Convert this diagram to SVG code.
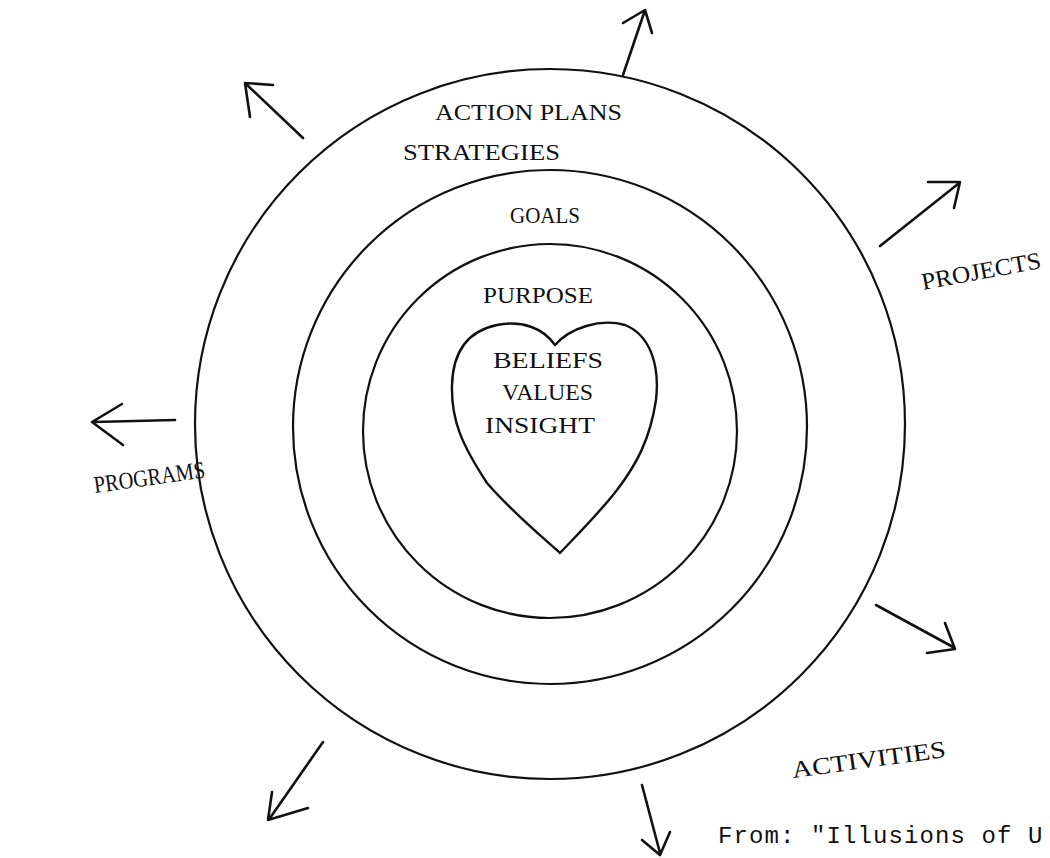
<svg xmlns="http://www.w3.org/2000/svg" width="1050" height="858" viewBox="0 0 1050 858">
<style>
.ring{fill:none;stroke:#111;stroke-width:2.2}
.heart{fill:none;stroke:#111;stroke-width:2.4;stroke-linejoin:round}
.arr{fill:none;stroke:#111;stroke-width:2.6;stroke-linecap:round;stroke-linejoin:round}
.lbl{font-family:"Liberation Serif",serif;font-size:24px;fill:#111}
.src{font-family:"Liberation Mono",monospace;font-size:24px;fill:#111;letter-spacing:1.1px}
</style>
<rect width="1050" height="858" fill="#fff"/>
<g id="outer-ring">
<circle class="ring" cx="550" cy="424" r="355"/>
<text class="lbl" x="435" y="120" textLength="187" lengthAdjust="spacingAndGlyphs">ACTION PLANS</text>
<text class="lbl" x="403" y="160" textLength="157" lengthAdjust="spacingAndGlyphs">STRATEGIES</text>
</g>
<g id="middle-ring">
<circle class="ring" cx="550" cy="427" r="257"/>
<text class="lbl" x="510" y="223" font-size="25" textLength="70" lengthAdjust="spacingAndGlyphs">GOALS</text>
</g>
<g id="inner-ring">
<circle class="ring" cx="550" cy="431" r="187"/>
<text class="lbl" x="483" y="303" textLength="110" lengthAdjust="spacingAndGlyphs">PURPOSE</text>
</g>
<g id="heart">
<path class="heart" d="M555 345 C543 328 522 320 497 325 C468 331 453 352 452 385 C451 420 462 445 487 483 C510 510 540 535 560 553 C580 532 600 512 617 490 C636 465 650 440 656 400 C660 365 650 335 625 325 C600 318 570 328 555 345 Z"/>
<text class="lbl" x="493" y="368" textLength="110" lengthAdjust="spacingAndGlyphs">BELIEFS</text>
<text class="lbl" x="502" y="400" textLength="91" lengthAdjust="spacingAndGlyphs">VALUES</text>
<text class="lbl" x="485" y="433" textLength="110" lengthAdjust="spacingAndGlyphs">INSIGHT</text>
</g>
<g id="connectors">
<path class="arr" d="M303 138 L245 83 M273 85 L245 83 L250 117"/>
<path class="arr" d="M623 75 L645 10 M623 23 L645 10 L652 33"/>
<path class="arr" d="M880 246 L958 184 M928 182 L960 182 L954 208"/>
<path class="arr" d="M175 420 L94 422 M122 404 L92 422 L123 445"/>
<path class="arr" d="M876 605 L953 647 M945 623 L955 649 L927 653"/>
<path class="arr" d="M642 785 L660 853 M642 840 L660 855 L670 832"/>
<path class="arr" d="M323 742 L270 818 M272 792 L268 820 L308 808"/>
</g>
<g id="outputs">
<text class="lbl" transform="translate(923 290) rotate(-10.5)" textLength="121" lengthAdjust="spacingAndGlyphs">PROJECTS</text>
<text class="lbl" transform="translate(95 493) rotate(-8)" textLength="112" lengthAdjust="spacingAndGlyphs">PROGRAMS</text>
<text class="lbl" transform="translate(793 778) rotate(-7.8)" textLength="155" lengthAdjust="spacingAndGlyphs">ACTIVITIES</text>
</g>
<text class="src" x="718" y="843">From: "Illusions of U</text>
</svg>
